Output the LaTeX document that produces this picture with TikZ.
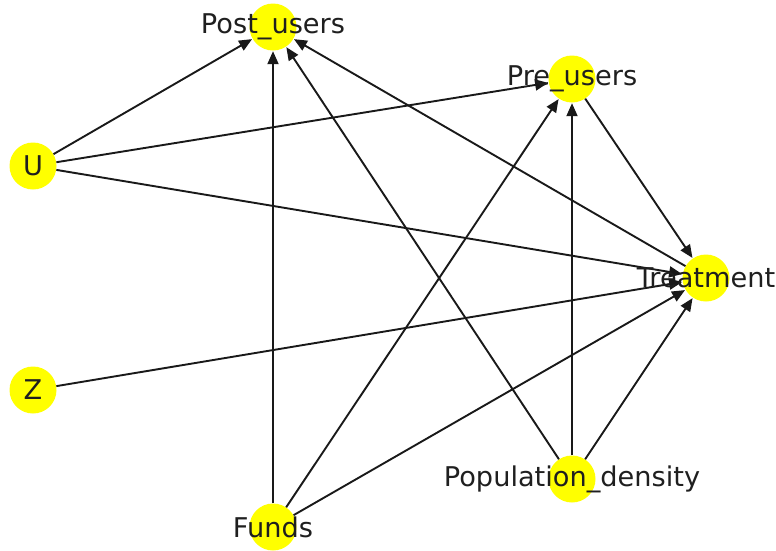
\documentclass[tikz,border=0pt]{standalone}
\usepackage{fontspec}
\setmainfont{DejaVu Sans}
\usetikzlibrary{arrows.meta}
\tikzset{
  dot/.style={circle, fill={rgb,255:red,255;green,255;blue,0}, draw=none, minimum size=47pt, inner sep=0pt},
  lbl/.style={inner sep=0pt, font=\fontsize{27.2}{31}\selectfont, text=black!88},
  edge/.style={-{Triangle[length=13pt,width=11pt]}, line width=1.9pt, black!90, shorten >=0.5pt},
}
\begin{document}
\begin{tikzpicture}[x=1pt, y=-1pt]
\useasboundingbox (0,0) rectangle (776,550);
\node[dot] (post) at (273,27) {};
\node[dot] (pre) at (572,79) {};
\node[dot] (u) at (33,166) {};
\node[dot] (treat) at (706,278) {};
\node[dot] (z) at (33,390) {};
\node[dot] (pop) at (572,479) {};
\node[dot] (funds) at (273,527) {};
\draw[edge] (u) -- (post);
\draw[edge] (u) -- (pre);
\draw[edge] (u) -- (treat);
\draw[edge] (z) -- (treat);
\draw[edge] (funds) -- (post);
\draw[edge] (funds) -- (pre);
\draw[edge] (funds) -- (treat);
\draw[edge] (pop) -- (post);
\draw[edge] (pop) -- (pre);
\draw[edge] (pop) -- (treat);
\draw[edge] (pre) -- (treat);
\draw[edge] (treat) -- (post);
\node[lbl] (postl) at (post.center) {Post\_users};
\node[lbl] (prel) at (pre.center) {Pre\_users};
\node[lbl] (ul) at (u.center) {U};
\node[lbl] (treatl) at (treat.center) {Treatment};
\node[lbl] (zl) at (z.center) {Z};
\node[lbl] (popl) at (pop.center) {Population\_density};
\node[lbl] (fundsl) at (funds.center) {Funds};
\end{tikzpicture}
\end{document}
